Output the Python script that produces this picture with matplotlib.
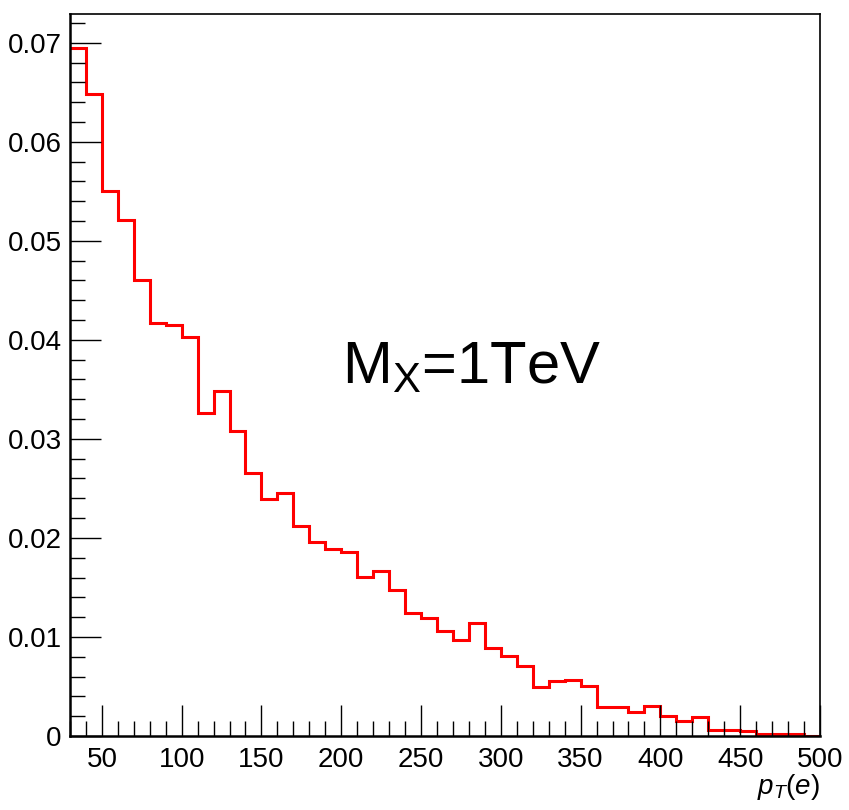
import numpy as np
import matplotlib
matplotlib.use("Agg")
import matplotlib.pyplot as plt
from matplotlib.ticker import MultipleLocator

plt.rcParams["font.family"] = ["Liberation Sans", "DejaVu Sans"]
plt.rcParams["mathtext.fontset"] = "custom"
plt.rcParams["mathtext.rm"] = "Liberation Sans"
plt.rcParams["mathtext.it"] = "Liberation Sans:italic"

# bin edges of p_T(e), 10 GeV wide from 30 to 500
edges = np.arange(30, 501, 10)
# normalised entries per bin
counts = [
    0.0695, 0.0648, 0.0550, 0.0521, 0.0460, 0.04175, 0.04148, 0.04033,
    0.0326, 0.0348, 0.03084, 0.0266, 0.0239, 0.02458, 0.02121, 0.01963,
    0.01892, 0.01855, 0.01603, 0.01667, 0.01475, 0.01246, 0.01192, 0.01057,
    0.00966, 0.01138, 0.00889, 0.00805, 0.00704, 0.00498, 0.00559, 0.00566,
    0.00505, 0.00293, 0.00296, 0.00246, 0.00303, 0.00205, 0.00155, 0.00195,
    0.00061, 0.00061, 0.00054, 0.00017, 0.00023, 0.00017, 0.00003,
]

fig = plt.figure(figsize=(8.49, 8.10), dpi=100)
ax = fig.add_axes([0.0824, 0.0914, 0.8834, 0.8913])

ax.stairs(counts, edges, color="red", linewidth=2.2, baseline=None)

ax.set_xlim(30, 500)
ax.set_ylim(0, 0.0729)

ax.xaxis.set_major_locator(MultipleLocator(50))
ax.xaxis.set_minor_locator(MultipleLocator(10))
ax.yaxis.set_major_locator(MultipleLocator(0.01))
ax.yaxis.set_minor_locator(MultipleLocator(0.002))
ax.tick_params(which="both", direction="in", top=False, right=False,
               labelsize=20, width=1)
ax.tick_params(which="major", length=22)
ax.tick_params(which="minor", length=11)
ax.tick_params(axis="y", pad=6)
ax.tick_params(axis="x", pad=8)
ax.set_yticks(np.arange(0, 0.071, 0.01))
ax.set_yticklabels(["0"] + [f"{v:.2f}" for v in np.arange(0.01, 0.071, 0.01)])

for sp in ax.spines.values():
    sp.set_linewidth(1.2)
ax.spines["bottom"].set_linewidth(1.8)
ax.spines["left"].set_linewidth(1.8)

ax.text(1.0, -0.07, r"$p_{T}(e)$", transform=ax.transAxes,
        ha="right", va="center", fontsize=20)

ax.text(0.535, 0.51, r"M$_{\mathrm{X}}$=1TeV", transform=ax.transAxes,
        ha="center", va="center", fontsize=43)

fig.savefig("out.png", dpi=100)
